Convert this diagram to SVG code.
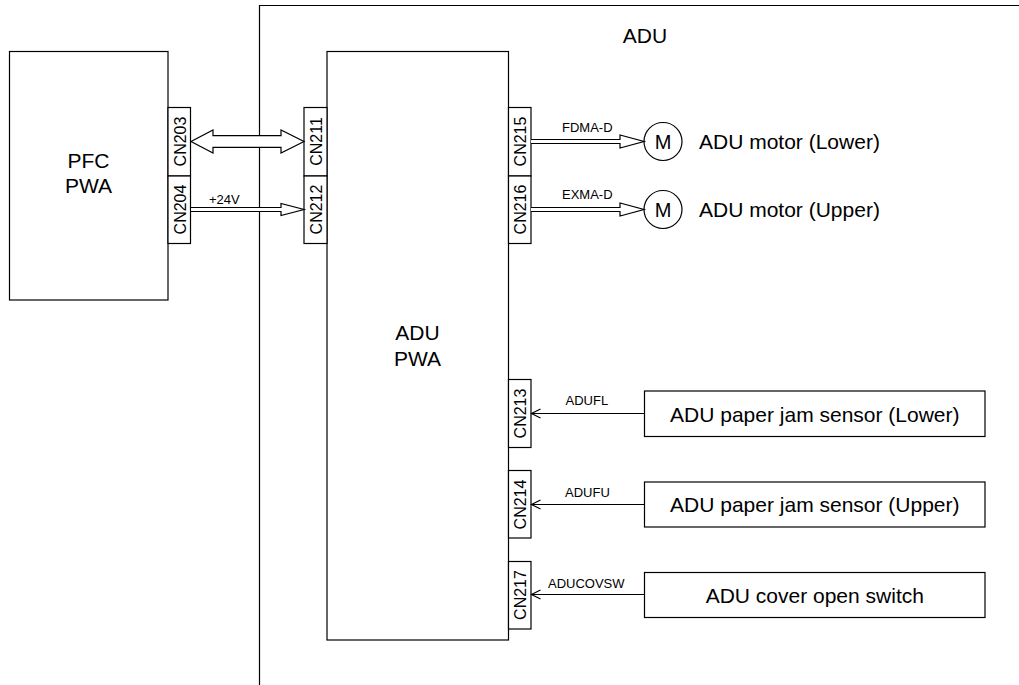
<svg xmlns="http://www.w3.org/2000/svg" width="1019" height="685" viewBox="0 0 1019 685">
<style>
.b{fill:#fff;stroke:#000;stroke-width:1.2}
.l{fill:none;stroke:#000;stroke-width:1.2}
.t{font-family:"Liberation Sans",Arial,sans-serif;font-size:21px;fill:#000}
.c{font-family:"Liberation Sans",Arial,sans-serif;font-size:16px;fill:#000;text-anchor:middle}
.s{font-family:"Liberation Sans",Arial,sans-serif;font-size:13px;fill:#000}
.m{text-anchor:middle}
</style>
<rect width="1019" height="685" fill="#fff"/>
<g id="adu-frame">
<path class="l" d="M259.5,685 V5.5 H1019"/>
<text class="t m" x="645" y="42.5">ADU</text>
</g>
<g id="pfc-pwa">
<rect class="b" x="9.5" y="51.5" width="158.5" height="248.5"/>
<text class="t m" x="88.5" y="167.5">PFC</text>
<text class="t m" x="88.5" y="193">PWA</text>
<rect class="b" x="168" y="107.5" width="22.5" height="68.5"/>
<text class="c" transform="translate(185.5,141.5) rotate(-90)">CN203</text>
<rect class="b" x="168" y="176" width="22.5" height="67.5"/>
<text class="c" transform="translate(185.5,209.5) rotate(-90)">CN204</text>
</g>
<g id="adu-pwa">
<rect class="b" x="327" y="51.5" width="181.5" height="588.5"/>
<text class="t m" x="417.5" y="340">ADU</text>
<text class="t m" x="417.5" y="365.5">PWA</text>
<rect class="b" x="304" y="107.5" width="23" height="68.5"/>
<text class="c" transform="translate(321.5,141.5) rotate(-90)">CN211</text>
<rect class="b" x="304" y="176" width="23" height="67.5"/>
<text class="c" transform="translate(321.5,209.5) rotate(-90)">CN212</text>
<rect class="b" x="508.5" y="107.5" width="22.5" height="68.5"/>
<text class="c" transform="translate(525.5,141.5) rotate(-90)">CN215</text>
<rect class="b" x="508.5" y="176" width="22.5" height="67.5"/>
<text class="c" transform="translate(525.5,209.5) rotate(-90)">CN216</text>
<rect class="b" x="508.5" y="379.5" width="22.5" height="68"/>
<text class="c" transform="translate(525.5,413.5) rotate(-90)">CN213</text>
<rect class="b" x="508.5" y="470.5" width="22.5" height="67.5"/>
<text class="c" transform="translate(525.5,504.5) rotate(-90)">CN214</text>
<rect class="b" x="508.5" y="561.5" width="22.5" height="67.5"/>
<text class="c" transform="translate(525.5,595) rotate(-90)">CN217</text>
</g>
<g id="motor-lower">
<circle class="b" cx="663" cy="141.5" r="19"/>
<text class="t m" x="663" y="149" style="font-size:20px">M</text>
<text class="t" x="699" y="149">ADU motor (Lower)</text>
</g>
<g id="motor-upper">
<circle class="b" cx="663" cy="209.5" r="19"/>
<text class="t m" x="663" y="217" style="font-size:20px">M</text>
<text class="t" x="699" y="217">ADU motor (Upper)</text>
</g>
<g id="sensor-lower">
<rect class="b" x="644.5" y="391" width="340.5" height="45.5"/>
<text class="t m" x="814.8" y="421.5">ADU paper jam sensor (Lower)</text>
</g>
<g id="sensor-upper">
<rect class="b" x="644.5" y="482" width="340.5" height="45"/>
<text class="t m" x="814.8" y="512">ADU paper jam sensor (Upper)</text>
</g>
<g id="cover-switch">
<rect class="b" x="644.5" y="572.5" width="340.5" height="45"/>
<text class="t m" x="814.8" y="602.5">ADU cover open switch</text>
</g>
<g id="connectors">
<path class="b" d="M191,141.5 L213,130 V135.7 H281 V130 L304,141.5 L281,153 V147.3 H213 V153 Z"/>
<path class="b" d="M191,207.5 H281 V203.5 L304,209.5 L281,215.5 V211.5 H191"/>
<text class="s" x="209" y="203.5">+24V</text>
<path class="b" d="M531,139.5 H620 V135 L644,141.5 L620,148 V143.5 H531"/>
<text class="s" x="562" y="132">FDMA-D</text>
<path class="b" d="M531,207.5 H620 V203 L644,209.5 L620,216 V211.5 H531"/>
<text class="s" x="562" y="199">EXMA-D</text>
<path class="l" d="M644.5,413.5 H531.5 M540.5,409 L531.5,413.5 L540.5,418"/>
<text class="s" x="565.5" y="405">ADUFL</text>
<path class="l" d="M644.5,504.5 H531.5 M540.5,500 L531.5,504.5 L540.5,509"/>
<text class="s" x="565" y="496.5">ADUFU</text>
<path class="l" d="M644.5,594.5 H531.5 M540.5,590 L531.5,594.5 L540.5,599"/>
<text class="s" x="548" y="588">ADUCOVSW</text>
</g>
</svg>
